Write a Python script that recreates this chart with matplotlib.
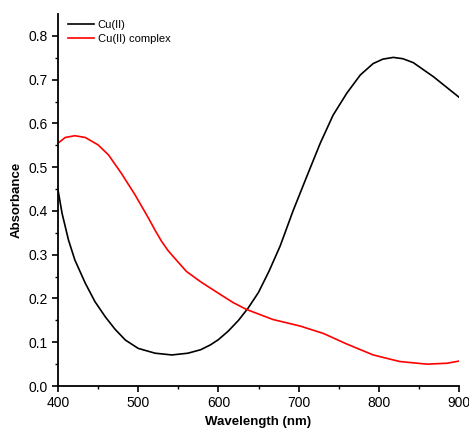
import numpy as np
import matplotlib.pyplot as plt

plt.rcParams['font.family'] = ['Liberation Sans', 'DejaVu Sans']

# wavelength (nm) and absorbance
wl_cu = [400, 405, 413, 421, 434, 446, 459, 471, 484, 500, 521, 542, 562, 578,
         590, 600, 612, 625, 637, 650, 663, 677, 693, 710, 727, 743, 760, 777,
         793, 805, 818, 830, 843, 868, 900]
abs_cu = [0.448, 0.395, 0.334, 0.288, 0.235, 0.193, 0.158, 0.130, 0.105, 0.086,
          0.075, 0.071, 0.075, 0.083, 0.094, 0.106, 0.125, 0.150, 0.178, 0.214,
          0.262, 0.320, 0.400, 0.478, 0.555, 0.619, 0.669, 0.711, 0.737, 0.747,
          0.751, 0.748, 0.739, 0.707, 0.660]

wl_cx = [400, 409, 421, 434, 450, 463, 479, 496, 513, 521, 529, 537, 546, 560,
         578, 600, 618, 635, 668, 702, 731, 760, 793, 826, 860, 885, 900]
abs_cx = [0.555, 0.568, 0.572, 0.568, 0.551, 0.528, 0.486, 0.437, 0.383, 0.356,
          0.331, 0.310, 0.291, 0.262, 0.238, 0.212, 0.191, 0.175, 0.152, 0.137,
          0.120, 0.096, 0.071, 0.056, 0.050, 0.052, 0.057]

fig = plt.figure(figsize=(4.69, 4.28), dpi=100)
ax = fig.add_axes([0.1237, 0.0981, 0.855, 0.869])

ax.plot(wl_cu, abs_cu, color='black', lw=1.2, label='Cu(II)')
ax.plot(wl_cx, abs_cx, color='red', lw=1.2, label='Cu(II) complex')

ax.set_xlim(400, 900)
ax.set_ylim(0, 0.85)
ax.set_xticks([400, 500, 600, 700, 800, 900])
ax.set_xticks(np.arange(450, 900, 100), minor=True)
ax.set_yticks(np.arange(0, 0.81, 0.1))
ax.set_yticks(np.arange(0.05, 0.85, 0.1), minor=True)
ax.yaxis.set_major_formatter(plt.FormatStrFormatter('%.1f'))

for side in ['top', 'right']:
    ax.spines[side].set_visible(False)
for side in ['left', 'bottom']:
    ax.spines[side].set_linewidth(1.3)

ax.tick_params(which='major', direction='out', length=4, width=1.2, labelsize=10)
ax.tick_params(which='minor', direction='out', length=2.5, width=1.0)

ax.set_xlabel('Wavelength (nm)', fontsize=9.5, fontweight='bold', labelpad=4)
ax.set_ylabel('Absorbance', fontsize=9.5, fontweight='bold', labelpad=4)

ax.legend(loc='upper left', frameon=False, fontsize=8, handlelength=2.4,
          handletextpad=0.3, labelspacing=0.35, borderaxespad=0.1,
          bbox_to_anchor=(0.01, 1.0))

fig.savefig('out.png', dpi=100)
